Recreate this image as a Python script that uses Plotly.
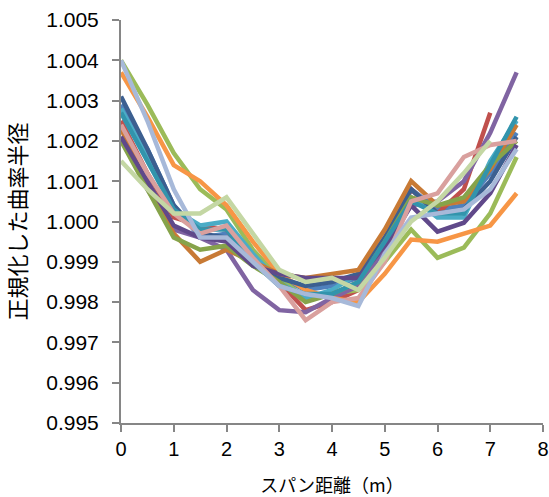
import plotly.graph_objects as go

# span positions (m)
span = [0, 0.5, 1, 1.5, 2, 2.5, 3, 3.5, 4, 4.5, 5, 5.5, 6, 6.5, 7, 7.5]

s_blue = [1.0029, 1.0018, 1.0004, 0.9996, 0.9997, 0.9991, 0.9986, 0.9983, 0.9984, 0.9986, 0.9995, 1.0008, 1.0003, 1.0004, 1.0012, 1.0022]
s_red = [1.0025, 1.0012, 1.0001, 0.9999, 0.9998, 0.9990, 0.9985, 0.9978, 0.9980, 0.9983, 0.9994, 1.0008, 1.0002, 1.0008, 1.0027, None]
s_green = [1.0040, 1.0029, 1.0017, 1.0008, 1.0003, 0.9993, 0.9986, 0.9981, 0.9982, 0.9983, 0.9990, 0.9998, 0.9991, 0.99935, 1.0002, 1.0016]
s_purple = [1.0021, 1.0008, 0.9998, 0.9996, 0.9993, 0.9983, 0.9978, 0.99775, 0.9981, 0.9984, 0.9993, 1.0004, 1.0005, 1.0010, 1.0022, 1.0037]
s_aqua = [1.0028, 1.0016, 1.0003, 0.9999, 1.0000, 0.9992, 0.9985, 0.9981, 0.9983, 0.9987, 0.9996, 1.0006, 1.0001, 1.0001, 1.0015, 1.0025]
s_orange = [1.0037, 1.0026, 1.0014, 1.0010, 1.0004, 0.9995, 0.9987, 0.9983, 0.9981, 0.9980, 0.9987, 0.99955, 0.9995, 0.9997, 0.9999, 1.0007]
s_darkblue = [1.0031, 1.0018, 1.0004, 0.9997, 0.9996, 0.9990, 0.9986, 0.9984, 0.9985, 0.9987, 0.9996, 1.0008, 1.0002, 1.0003, 1.0010, 1.0021]
s_brown = [1.0023, 1.0009, 0.9997, 0.9990, 0.9993, 0.9990, 0.9987, 0.9986, 0.9987, 0.9988, 0.9998, 1.0010, 1.0004, 1.0005, 1.0013, 1.0024]
s_darkgreen = [1.0020, 1.0008, 0.9996, 0.9993, 0.9994, 0.9989, 0.9985, 0.9980, 0.9982, 0.9985, 0.9995, 1.0006, 1.0004, 1.0006, 1.0014, 1.0020]
s_darkpurple = [1.0021, 1.0010, 0.9999, 0.9996, 0.9995, 0.9989, 0.9987, 0.9986, 0.9986, 0.9986, 0.9994, 1.0004, 0.99975, 0.99997, 1.0007, 1.0019]
s_teal = [1.0027, 1.0015, 1.0003, 0.9998, 0.9998, 0.9990, 0.9984, 0.9982, 0.9982, 0.9985, 0.9995, 1.0005, 1.0002, 1.0002, 1.0014, 1.0026]
s_pink = [1.0024, 1.0012, 1.0002, 0.9997, 0.9999, 0.9991, 0.9984, 0.99755, 0.9980, 0.9981, 0.9990, 1.0005, 1.0007, 1.0016, 1.0019, 1.0020]
s_lightblue = [1.0040, 1.0025, 1.0008, 0.9996, 0.9996, 0.9990, 0.9984, 0.9982, 0.9981, 0.9979, 0.9992, 1.0001, 1.0002, 1.0003, 1.0008, 1.0018]
s_palegreen = [1.0015, 1.0008, 1.0002, 1.0002, 1.0006, 0.9997, 0.9988, 0.9985, 0.9986, 0.9983, 0.9991, 1.0000, 1.0005, 1.0012, 1.0020, None]

series = [
    (s_blue, "#4F81BD"),
    (s_red, "#C0504D"),
    (s_green, "#9BBB59"),
    (s_purple, "#8064A2"),
    (s_aqua, "#4BACC6"),
    (s_orange, "#F79646"),
    (s_darkblue, "#3C5F90"),
    (s_brown, "#C87A35"),
    (s_darkgreen, "#86A34A"),
    (s_darkpurple, "#60498A"),
    (s_teal, "#3294AC"),
    (s_pink, "#D9A09E"),
    (s_lightblue, "#A7B9D9"),
    (s_palegreen, "#C4D7A4"),
]

x_ticks = [0, 1, 2, 3, 4, 5, 6, 7, 8]
y_ticks = [0.995, 0.996, 0.997, 0.998, 0.999, 1.000, 1.001, 1.002, 1.003, 1.004, 1.005]

fig = go.Figure()
for vals, col in series:
    fig.add_trace(go.Scatter(x=span, y=vals, mode="lines",
                             line=dict(color=col, width=4.5),
                             connectgaps=False, showlegend=False))

axis_col = "#868686"
font_fam = "Liberation Sans, Arial, Noto Sans CJK JP"
cjk_fam = "Noto Sans CJK JP, Liberation Sans"

fig.update_layout(
    width=549, height=497,
    margin=dict(l=121, r=6, t=20, b=74, autoexpand=False),
    paper_bgcolor="white", plot_bgcolor="white",
    font=dict(family=font_fam, size=20, color="black"),
    showlegend=False,
    xaxis=dict(range=[0, 8], tickvals=x_ticks, ticks="outside", ticklen=7,
               tickwidth=1.5, tickcolor=axis_col, showline=True, linecolor=axis_col,
               linewidth=2, showgrid=False, zeroline=False, ticklabeloverflow="allow",
               automargin=False, tickfont=dict(size=20),
               title=dict(text="スパン距離（m）", font=dict(family=cjk_fam, size=18), standoff=20)),
    yaxis=dict(range=[0.995, 1.005], tickvals=y_ticks, tickformat=".3f", ticks="outside",
               ticklen=7, tickwidth=1.5, tickcolor=axis_col, showline=True,
               linecolor=axis_col, linewidth=2, showgrid=False, zeroline=False,
               automargin=False, tickfont=dict(size=21), ticklabelstandoff=9,
               title=dict(text="正規化した曲率半径", font=dict(family=cjk_fam, size=22), standoff=16)),
    xaxis2=dict(range=[0, 8], tickvals=x_ticks, ticks="inside", ticklen=7,
                tickwidth=1.5, tickcolor=axis_col, showticklabels=False, showline=False,
                showgrid=False, zeroline=False, overlaying="x", anchor="y"),
    yaxis2=dict(range=[0.995, 1.005], tickvals=y_ticks, ticks="inside", ticklen=7,
                tickwidth=1.5, tickcolor=axis_col, showticklabels=False, showline=False,
                showgrid=False, zeroline=False, overlaying="y", anchor="x", side="left"),
)

# remove the page's default body margin so the 549x497 figure fills the window
fig.write_html("out.html",
               config={"displayModeBar": False},
               post_script="document.body.style.margin='0';document.body.style.overflow='hidden';")
